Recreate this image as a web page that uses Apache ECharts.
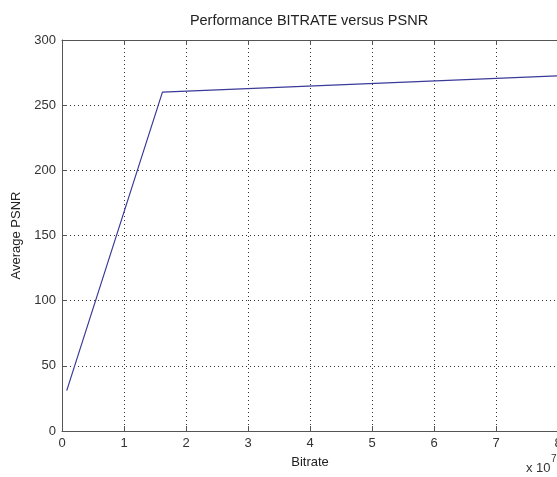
<!DOCTYPE html>
<html>
<head>
<meta charset="utf-8">
<script src="https://cdn.jsdelivr.net/npm/echarts@6/dist/echarts.min.js"></script>
<style>
  html, body { margin: 0; padding: 0; background: #fff; }
  #chart { width: 557px; height: 477px; }
</style>
</head>
<body>
<div id="chart"></div>
<script>
// bitrate in units of 10^7 (as on the axis), psnr
var bitrate = [0.076, 1.62, 8.0];
var psnr = [31, 260, 272.5];
var xTicks = [0, 8, 1];   // min, max, step
var yTicks = [0, 300, 50];

var chart = echarts.init(document.getElementById('chart'));
var font = 'Liberation Sans, Arial, sans-serif';
var axisGrey = '#555';

var points = bitrate.map(function (b, i) { return [b, psnr[i]]; });

var option = {
  backgroundColor: '#fff',
  animation: false,
  grid: { left: 62, right: -1, top: 40, bottom: 46, outerBoundsMode: 'none' },
  graphic: [
    {
      type: 'text', x: 309, y: 21,
      style: {
        text: 'Performance BITRATE versus PSNR',
        font: '14.5px ' + font, fill: '#222', textAlign: 'center', textVerticalAlign: 'middle'
      }
    },
    {
      type: 'text', x: 526, y: 468,
      style: { text: 'x 10', font: '13px ' + font, fill: '#333', textVerticalAlign: 'middle' }
    },
    {
      type: 'text', x: 551, y: 459,
      style: { text: '7', font: '10px ' + font, fill: '#333', textVerticalAlign: 'middle' }
    }
  ],
  xAxis: [
    {
      type: 'value', min: xTicks[0], max: xTicks[1], interval: xTicks[2],
      position: 'bottom',
      name: 'Bitrate', nameLocation: 'middle', nameGap: 25,
      nameTextStyle: { fontFamily: font, fontSize: 13, color: '#222' },
      axisLine: { show: true, lineStyle: { color: axisGrey, width: 1 } },
      axisTick: { show: true, inside: true, length: 5, lineStyle: { color: axisGrey } },
      axisLabel: { fontFamily: font, fontSize: 13, color: '#333', margin: 6 },
      splitLine: { show: true, lineStyle: { type: [1, 3], color: '#333', width: 1 } }
    },
    {
      type: 'value', min: xTicks[0], max: xTicks[1], interval: xTicks[2],
      position: 'top',
      axisLine: { show: true, lineStyle: { color: axisGrey, width: 1 } },
      axisTick: { show: true, inside: true, length: 5, lineStyle: { color: axisGrey } },
      axisLabel: { show: false },
      splitLine: { show: false }
    }
  ],
  yAxis: [
    {
      type: 'value', min: yTicks[0], max: yTicks[1], interval: yTicks[2],
      name: 'Average PSNR', nameLocation: 'middle', nameGap: 34,
      nameTextStyle: { fontFamily: font, fontSize: 13, color: '#222' },
      axisLine: { show: true, lineStyle: { color: axisGrey, width: 1 } },
      axisTick: { show: true, inside: true, length: 5, lineStyle: { color: axisGrey } },
      axisLabel: { fontFamily: font, fontSize: 13, color: '#333', margin: 6 },
      splitLine: { show: true, lineStyle: { type: [1, 3], color: '#333', width: 1 } }
    }
  ],
  series: [
    {
      type: 'line',
      data: points,
      showSymbol: false,
      lineStyle: { color: '#3a3a98', width: 1.2 },
      xAxisIndex: 0, yAxisIndex: 0
    }
  ]
};

chart.setOption(option);
</script>
</body>
</html>
